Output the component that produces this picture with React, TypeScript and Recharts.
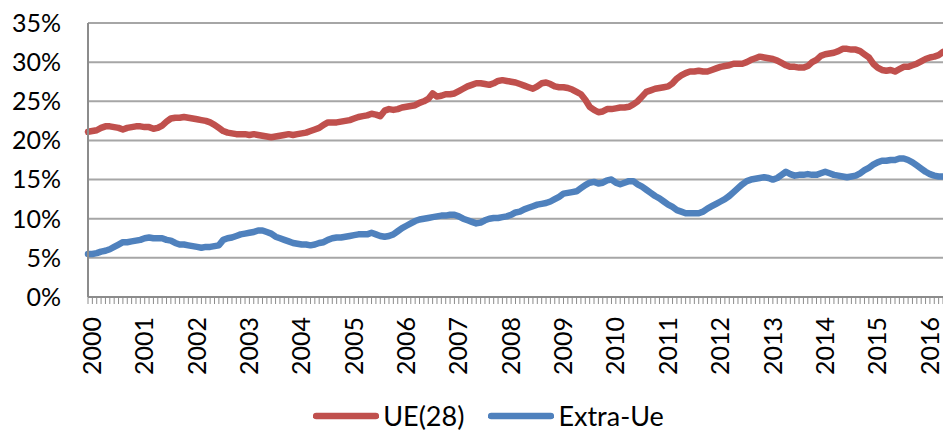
import React from 'react';
import { LineChart, Line, XAxis, YAxis, CartesianGrid, Legend } from 'recharts';

// monthly shares (%), Jan 2000 – May 2016
const ue28 = [
  21.1, 21.2, 21.3, 21.6, 21.8, 21.8, 21.7, 21.6, 21.4, 21.6, 21.7, 21.8,
  21.8, 21.7, 21.7, 21.5, 21.6, 21.9, 22.4, 22.8, 22.9, 22.9, 23.0, 22.9,
  22.8, 22.7, 22.6, 22.5, 22.3, 22.0, 21.6, 21.2, 21.0, 20.9, 20.8, 20.8,
  20.8, 20.7, 20.8, 20.7, 20.6, 20.5, 20.4, 20.5, 20.6, 20.7, 20.8, 20.7,
  20.8, 20.9, 21.0, 21.2, 21.4, 21.6, 22.0, 22.3, 22.3, 22.3, 22.4, 22.5,
  22.6, 22.8, 23.0, 23.1, 23.2, 23.4, 23.3, 23.1, 23.8, 24.0, 23.9, 24.0,
  24.2, 24.3, 24.4, 24.5, 24.8, 25.0, 25.3, 26.0, 25.6, 25.7, 25.9, 25.9,
  26.0, 26.3, 26.6, 26.9, 27.1, 27.3, 27.3, 27.2, 27.1, 27.3, 27.6, 27.7,
  27.6, 27.5, 27.4, 27.2, 27.0, 26.8, 26.6, 26.9, 27.3, 27.4, 27.2, 26.9,
  26.8, 26.8, 26.7, 26.5, 26.2, 25.9, 25.2, 24.3, 23.9, 23.6, 23.7, 24.0,
  24.0, 24.1, 24.2, 24.2, 24.3, 24.6, 25.0, 25.6, 26.2, 26.4, 26.6, 26.7,
  26.8, 26.9, 27.3, 27.9, 28.3, 28.6, 28.8, 28.8, 28.9, 28.8, 28.8, 29.0,
  29.2, 29.4, 29.5, 29.6, 29.8, 29.8, 29.8, 30.0, 30.3, 30.5, 30.7, 30.6,
  30.5, 30.4, 30.2, 29.9, 29.6, 29.4, 29.4, 29.3, 29.3, 29.5, 30.0, 30.3,
  30.8, 31.0, 31.1, 31.2, 31.4, 31.7, 31.7, 31.6, 31.6, 31.4, 31.0, 30.6,
  29.8, 29.3, 29.0, 28.9, 29.0, 28.8, 29.1, 29.4, 29.4, 29.6, 29.8, 30.1,
  30.4, 30.6, 30.7, 30.9, 31.3,
];

const extraUe = [
  5.5, 5.5, 5.6, 5.8, 5.9, 6.1, 6.4, 6.7, 7.0, 7.0, 7.1, 7.2,
  7.3, 7.5, 7.6, 7.5, 7.5, 7.5, 7.3, 7.2, 6.9, 6.7, 6.7, 6.6,
  6.5, 6.4, 6.3, 6.4, 6.4, 6.5, 6.6, 7.3, 7.5, 7.6, 7.8, 8.0,
  8.1, 8.2, 8.3, 8.5, 8.5, 8.3, 8.1, 7.7, 7.5, 7.3, 7.1, 6.9,
  6.8, 6.7, 6.7, 6.6, 6.7, 6.9, 7.0, 7.3, 7.5, 7.6, 7.6, 7.7,
  7.8, 7.9, 8.0, 8.0, 8.0, 8.2, 8.0, 7.8, 7.7, 7.8, 8.0, 8.4,
  8.8, 9.1, 9.4, 9.7, 9.9, 10.0, 10.1, 10.2, 10.3, 10.4, 10.4, 10.5,
  10.5, 10.3, 10.0, 9.8, 9.6, 9.4, 9.5, 9.8, 10.0, 10.1, 10.1, 10.2,
  10.3, 10.5, 10.8, 10.9, 11.2, 11.4, 11.6, 11.8, 11.9, 12.0, 12.2, 12.5,
  12.8, 13.2, 13.3, 13.4, 13.5, 13.9, 14.3, 14.6, 14.7, 14.5, 14.6, 14.9,
  15.0, 14.6, 14.4, 14.6, 14.8, 14.8, 14.4, 14.1, 13.7, 13.3, 12.9, 12.6,
  12.2, 11.8, 11.5, 11.1, 10.9, 10.7, 10.7, 10.7, 10.7, 10.9, 11.3, 11.6,
  11.9, 12.2, 12.5, 12.9, 13.4, 13.9, 14.4, 14.8, 15.0, 15.1, 15.2, 15.3,
  15.2, 15.0, 15.2, 15.6, 16.0, 15.7, 15.5, 15.6, 15.6, 15.7, 15.6, 15.6,
  15.8, 16.0, 15.8, 15.6, 15.5, 15.4, 15.3, 15.4, 15.5, 15.8, 16.2, 16.5,
  16.9, 17.2, 17.4, 17.4, 17.5, 17.5, 17.7, 17.7, 17.5, 17.2, 16.8, 16.4,
  16.0, 15.7, 15.5, 15.4, 15.4,
];

const startYear = 2000;
const yTicks = [0, 5, 10, 15, 20, 25, 30, 35];
const legendOrder = ['UE(28)', 'Extra-Ue'];

const months = ue28.map((_, i) => {
  const y = startYear + Math.floor(i / 12);
  const m = (i % 12) + 1;
  return `${y}-${m < 10 ? '0' + m : m}`;
});

const data = months.map((month, i) => ({
  month,
  ue: ue28[i],
  extra: extraUe[i],
}));

const FONT = 'Lato, "Noto Sans", sans-serif';
const RED = '#c0504d';
const BLUE = '#4f81bd';

const MonthTick = ({ x, y, payload }: any) => {
  const [yr, mo] = String(payload.value).split('-');
  return (
    <g>
      <line x1={x} y1={y} x2={x} y2={y + 7} stroke="#8c8c8c" strokeWidth={1} />
      {mo === '01' && (
        <text
          transform={`translate(${x + 3},${y + 20}) rotate(-90)`}
          textAnchor="end"
          dominantBaseline="central"
          fontSize={25}
          fontFamily={FONT}
          fill="#000"
        >
          {yr}
        </text>
      )}
    </g>
  );
};

const LegendContent = ({ payload }: any) => {
  const items = [...(payload || [])].sort(
    (a: any, b: any) => legendOrder.indexOf(a.value) - legendOrder.indexOf(b.value)
  );
  return (
    <div
      style={{
        display: 'flex',
        justifyContent: 'center',
        alignItems: 'center',
        height: 34,
        paddingLeft: 34,
        gap: 24,
        fontFamily: FONT,
        fontSize: 27,
        lineHeight: '34px',
        color: '#000',
      }}
    >
      {items.map((p: any) => (
        <div key={p.value} style={{ display: 'flex', alignItems: 'center', height: 34 }}>
          <svg width={66} height={10} style={{ marginRight: 4 }}>
            <line x1={3} y1={5} x2={63} y2={5} stroke={p.color} strokeWidth={6.5} strokeLinecap="round" />
          </svg>
          <span style={{ lineHeight: '34px' }}>{p.value}</span>
        </div>
      ))}
    </div>
  );
};

export default function App() {
  return (
    <div style={{ position: 'absolute', left: 0, top: 0, background: '#fff' }}>
      <LineChart
        width={943}
        height={433}
        data={data}
        margin={{ top: 23, right: 0, bottom: 0, left: 0 }}
      >
        <CartesianGrid vertical={false} stroke="#a6a6a6" strokeWidth={2} />
        <XAxis
          dataKey="month"
          interval={0}
          height={102}
          tickLine={false}
          tickSize={0}
          tickMargin={0}
          axisLine={{ stroke: '#8c8c8c', strokeWidth: 2 }}
          tick={<MonthTick />}
        />
        <YAxis
          width={88}
          domain={[0, 35]}
          ticks={yTicks}
          interval={0}
          tickLine={false}
          tickSize={0}
          tickMargin={27}
          axisLine={{ stroke: '#8c8c8c', strokeWidth: 2 }}
          tickFormatter={(v) => `${v}%`}
          tick={{ fill: '#000', fontSize: 25, fontFamily: FONT }}
        />
        <Legend verticalAlign="bottom" height={34} content={<LegendContent />} />
        <Line
          name="UE(28)"
          type="linear"
          dataKey="ue"
          stroke={RED}
          strokeWidth={6.5}
          strokeLinejoin="round"
          strokeLinecap="round"
          dot={false}
          isAnimationActive={false}
        />
        <Line
          name="Extra-Ue"
          type="linear"
          dataKey="extra"
          stroke={BLUE}
          strokeWidth={6.5}
          strokeLinejoin="round"
          strokeLinecap="round"
          dot={false}
          isAnimationActive={false}
        />
      </LineChart>
    </div>
  );
}
